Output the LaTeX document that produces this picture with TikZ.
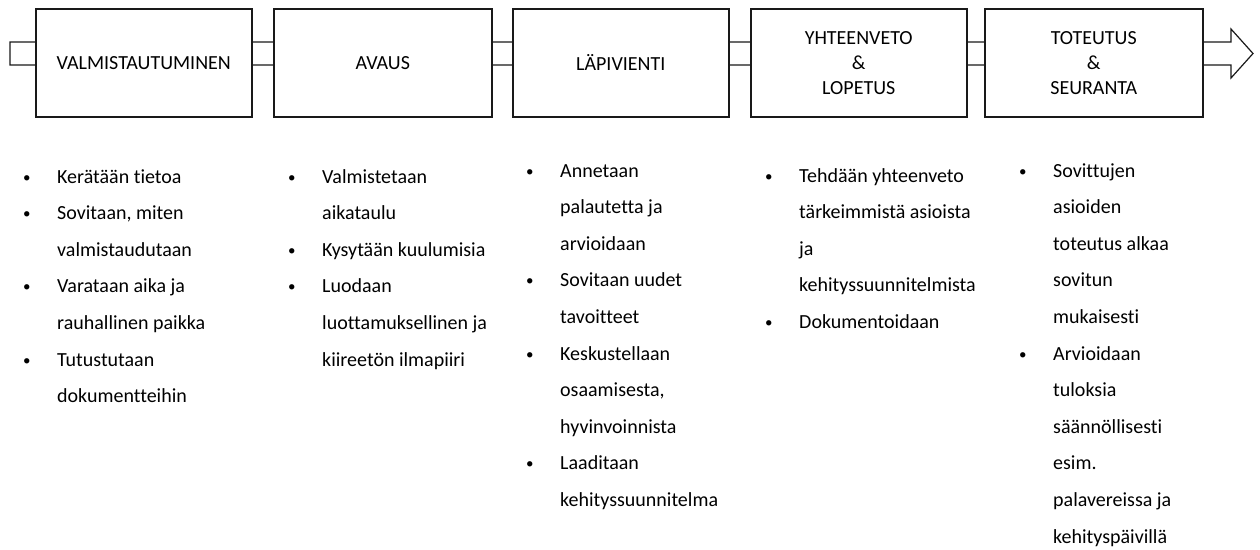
\documentclass[tikz,border=0pt]{standalone}
\usepackage{fontspec}
\setmainfont{Carlito}[Ligatures=NoCommon]
\usepackage{array}
\begin{document}
\begin{tikzpicture}[x=1pt,y=-1pt,
  phase/.style={draw=black!90, line width=1.5pt, fill=white,
    minimum width=#1, minimum height=108pt, inner sep=0pt,
    anchor=north west, align=center,
    font=\fontsize{20}{25}\selectfont},
  flow/.style={draw=black!90, line width=1.2pt, fill=white, line join=miter},
  items/.style={inner sep=0pt, anchor=base west,
    font=\fontsize{20}{36.6}\selectfont}]
\useasboundingbox (0,0) rectangle (1260,549);

% process arrow running behind the phases
\coordinate (tailtop) at (10,42);
\coordinate (tailbot) at (10,65);
\coordinate (headtop) at (1231,42);
\coordinate (headbot) at (1231,65);
\coordinate (tip) at (1253,53.5);
\draw[flow] (tailtop) -- (headtop) -- (1231,29) -- (tip) -- (1231,78)
  -- (headbot) -- (tailbot) -- cycle;

% phases
\node[phase=216pt] (b1) at (35,8)  {VALMISTAUTUMINEN};
\node[phase=218pt] (b2) at (273,8) {AVAUS};
\node[phase=216pt] (b3) at (512,8) {LÄPIVIENTI};
\node[phase=216pt] (b4) at (750,8) {YHTEENVETO\\\&\\LOPETUS};
\node[phase=218pt] (b5) at (984,8) {TOTEUTUS\\\&\\SEURANTA};

% task lists under each phase
\newcommand\bul{\raisebox{0.9pt}{\scalebox{0.75}{\textbullet}}}
\node[items] (l1) at (23,183) {\begin{tabular}[t]{@{}p{34pt}@{}l@{}}
\bul & Kerätään tietoa\\
\bul & Sovitaan, miten\\
     & valmistaudutaan\\
\bul & Varataan aika ja\\
     & rauhallinen paikka\\
\bul & Tutustutaan\\
     & dokumentteihin
\end{tabular}};

\node[items] (l2) at (288,183) {\begin{tabular}[t]{@{}p{34pt}@{}l@{}}
\bul & Valmistetaan\\
     & aikataulu\\
\bul & Kysytään kuulumisia\\
\bul & Luodaan\\
     & luottamuksellinen ja\\
     & kiireetön ilmapiiri
\end{tabular}};

\node[items] (l3) at (526,177) {\begin{tabular}[t]{@{}p{34pt}@{}l@{}}
\bul & Annetaan\\
     & palautetta ja\\
     & arvioidaan\\
\bul & Sovitaan uudet\\
     & tavoitteet\\
\bul & Keskustellaan\\
     & osaamisesta,\\
     & hyvinvoinnista\\
\bul & Laaditaan\\
     & kehityssuunnitelma
\end{tabular}};

\node[items] (l4) at (765,182) {\begin{tabular}[t]{@{}p{34pt}@{}l@{}}
\bul & Tehdään yhteenveto\\
     & tärkeimmistä asioista\\
     & ja\\
     & kehityssuunnitelmista\\
\bul & Dokumentoidaan
\end{tabular}};

\node[items] (l5) at (1019,177) {\begin{tabular}[t]{@{}p{34pt}@{}l@{}}
\bul & Sovittujen\\
     & asioiden\\
     & toteutus alkaa\\
     & sovitun\\
     & mukaisesti\\
\bul & Arvioidaan\\
     & tuloksia\\
     & säännöllisesti\\
     & esim.\\
     & palavereissa ja\\
     & kehityspäivillä
\end{tabular}};
\end{tikzpicture}
\end{document}
